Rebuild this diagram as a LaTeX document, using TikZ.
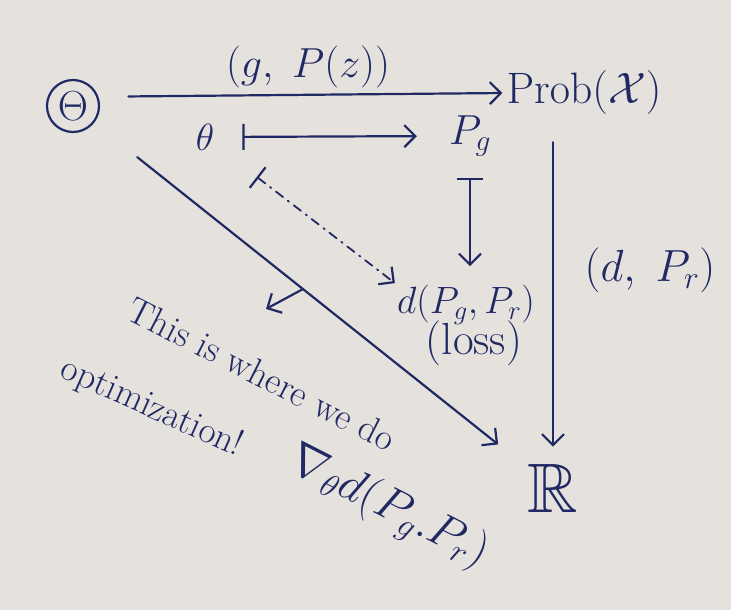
\RequirePackage{fix-cm}
\documentclass[tikz,border=0pt]{standalone}
\usepackage{amssymb}
\usetikzlibrary{arrows.meta,calc}
\definecolor{paper}{RGB}{229,226,222}
\definecolor{ink}{RGB}{33,41,100}
\newcommand{\myfs}[1]{\fontsize{#1}{#1}\selectfont}
\begin{document}
\begin{tikzpicture}[x=1pt,y=-1pt,
  inkline/.style={draw=ink, line width=2.2pt, line cap=round, line join=round},
  arrowend/.style={-{Straight Barb[length=11pt,width=22pt,line width=2.2pt]}},
  mapsarrow/.style={{Bar[width=26pt,line width=2.2pt]}-{Straight Barb[length=11pt,width=22pt,line width=2.2pt]}},
  lab/.style={text=ink, inner sep=2pt},
  dashdot/.style={dash pattern=on 9pt off 6pt on 1.5pt off 6pt, line width=1.8pt}]
\fill[paper] (0,0) rectangle (731,610);
\useasboundingbox (0,0) rectangle (731,610);

\node[lab, circle, draw=ink, line width=2.2pt, minimum size=52pt, inner sep=0pt, font=\myfs{42}] (Th) at (73,106) {$\Theta$};
\node[lab, font=\myfs{44}] (prob) at (584,93) {$\mathrm{Prob}(\mathcal{X})$};
\node[lab, font=\myfs{42}] (lab1) at (308,67) {$(g,\; P(z))$};
\node[lab, font=\myfs{38}] (th) at (205,137) {$\theta$};
\node[lab, font=\myfs{42}] (pg) at (470,136) {$P_g$};
\node[lab, font=\myfs{38}] (dpp) at (466,305) {$d(P_g,P_r)$};
\node[lab, font=\myfs{45}] (loss) at (474,343) {(loss)};
\node[lab, font=\myfs{45}] (lab2) at (650,270) {$(d,\; P_r)$};
\node[lab, font=\myfs{70}] (R) at (553,488) {$\mathbb{R}$};
\node[lab, font=\myfs{37}, rotate=-27] (note1) at (262,374) {This is where we do};
\node[lab, font=\myfs{37}, rotate=-24] (note2) at (152,408) {optimization!};
\node[lab, font=\myfs{47}, rotate=-27] (grad) at (388,508) {$\nabla_{\theta} d(P_g . P_r)$};

\draw[inkline, arrowend, shorten <=30pt, shorten >=2pt] (Th.20) -- (prob.west);
\draw[inkline, mapsarrow, shorten <=26pt, shorten >=30pt] (th.east) -- (pg.west);
\draw[inkline, mapsarrow, shorten <=19pt, shorten >=17pt] (pg.south) -- (pg.south |- dpp.north);
\draw[inkline, dashdot, mapsarrow, shorten <=51pt] (th) -- (dpp.north west);
\draw[inkline, arrowend, shorten <=55pt, shorten >=35pt] (Th) -- (R);
\path (Th) -- (R) coordinate[pos=0.484] (opt0);
\coordinate (opt1) at (266,309);
\draw[inkline, arrowend] (opt0) -- (opt1);
\draw[inkline, arrowend, shorten <=25pt, shorten >=15pt] (R.north |- prob.south) -- (R.north);
\end{tikzpicture}
\end{document}
